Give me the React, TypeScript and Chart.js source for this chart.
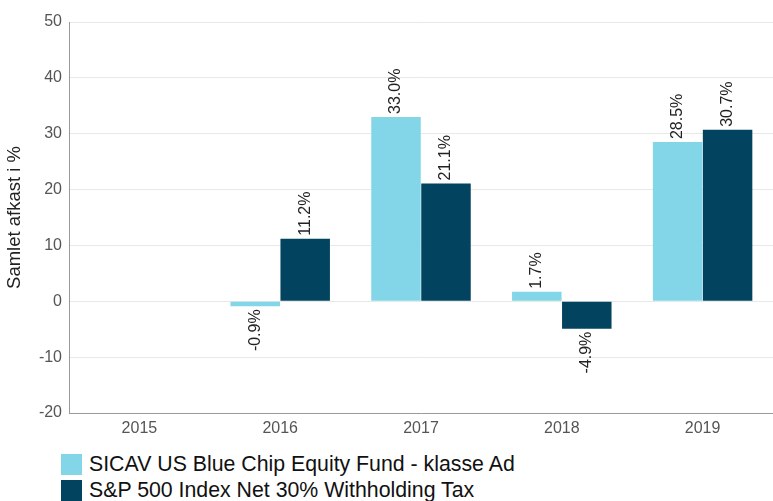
import React, { useEffect, useRef } from "react";
import { Chart, registerables } from "chart.js";

Chart.register(...registerables);

const categories = ["2015", "2016", "2017", "2018", "2019"];
const fundName = "SICAV US Blue Chip Equity Fund - klasse Ad";
const indexName = "S&P 500 Index Net 30% Withholding Tax";
const fundValues: (number | null)[] = [null, -0.9, 33.0, 1.7, 28.5];
const indexValues: (number | null)[] = [null, 11.2, 21.1, -4.9, 30.7];
const fundColor = "#82d6e8";
const indexColor = "#02435f";
const yTitle = "Samlet afkast i %";
const FONT = "'Liberation Sans', Arial, sans-serif";

const labelPlugin = {
  id: "barLabels",
  afterDatasetsDraw(chart: any) {
    const ctx = chart.ctx;
    ctx.save();
    ctx.font = "16px " + FONT;
    ctx.fillStyle = "#222";
    ctx.textBaseline = "middle";
    chart.data.datasets.forEach((ds: any, di: number) => {
      const meta = chart.getDatasetMeta(di);
      meta.data.forEach((bar: any, i: number) => {
        const v = ds.data[i];
        if (v === null || v === undefined) return;
        const txt = v.toFixed(1) + "%";
        ctx.save();
        if (v >= 0) {
          ctx.translate(bar.x, bar.y - 3);
          ctx.rotate(-Math.PI / 2);
          ctx.textAlign = "left";
        } else {
          ctx.translate(bar.x, bar.y + 3);
          ctx.rotate(-Math.PI / 2);
          ctx.textAlign = "right";
        }
        ctx.fillText(txt, 0, 0);
        ctx.restore();
      });
    });
    ctx.restore();
  },
};

export default function App() {
  const ref = useRef<HTMLCanvasElement>(null);
  useEffect(() => {
    const chart = new Chart(ref.current as HTMLCanvasElement, {
      type: "bar",
      data: {
        labels: categories,
        datasets: [
          { label: fundName, data: fundValues, backgroundColor: fundColor, categoryPercentage: 0.71, barPercentage: 0.99 },
          { label: indexName, data: indexValues, backgroundColor: indexColor, categoryPercentage: 0.71, barPercentage: 0.99 },
        ],
      },
      options: {
        animation: false,
        responsive: false,
        maintainAspectRatio: false,
        layout: { padding: { top: 22, right: 0, left: 0, bottom: 0 } },
        plugins: { legend: { display: false }, tooltip: { enabled: false } },
        scales: {
          x: {
            grid: { display: false, drawTicks: false },
            border: { color: "#999" },
            ticks: { color: "#555", font: { size: 16, family: FONT }, padding: 6 },
            afterFit(scale: any) { scale.height = 34; },
          },
          y: {
            min: -20,
            max: 50,
            ticks: { stepSize: 10, color: "#555", font: { size: 16, family: FONT }, padding: 7 },
            grid: { color: "#e8e8e8", drawTicks: false },
            border: { color: "#999" },
            title: { display: true, text: yTitle, color: "#222", font: { size: 18.5, family: FONT }, padding: { top: 4, bottom: 0 } },
            afterFit(scale: any) { scale.width = 69; },
          },
        },
      },
      plugins: [labelPlugin],
    });
    return () => chart.destroy();
  }, []);

  const legendItem = (color: string, text: string) => (
    <div style={{ display: "flex", alignItems: "center", height: 26 }}>
      <div style={{ width: 21, height: 21, background: color, marginRight: 7 }} />
      <span style={{ fontSize: 21.3, color: "#111", fontFamily: FONT, lineHeight: "26px" }}>{text}</span>
    </div>
  );

  return (
    <div style={{ position: "absolute", left: 0, top: 0, width: 773, height: 501, background: "#fff", overflow: "hidden" }}>
      <canvas ref={ref} width={773} height={447} style={{ display: "block" }} />
      <div style={{ position: "absolute", left: 61, top: 451 }}>
        {legendItem(fundColor, fundName)}
        {legendItem(indexColor, indexName)}
      </div>
    </div>
  );
}
